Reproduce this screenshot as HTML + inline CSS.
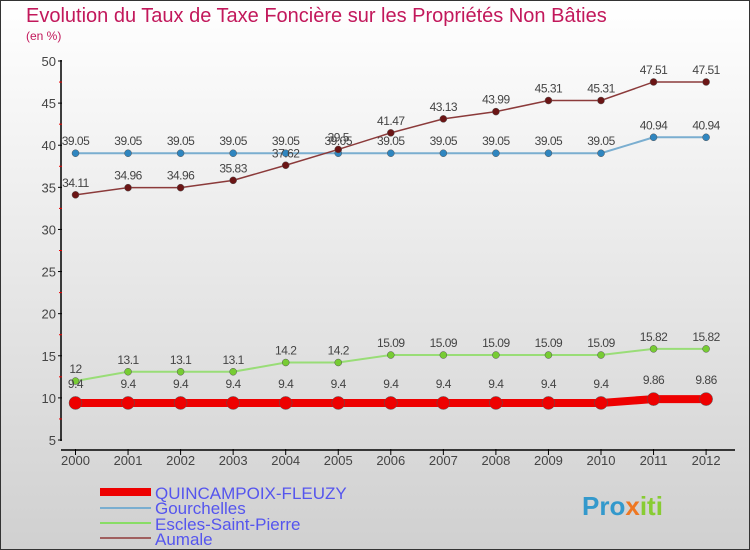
<!DOCTYPE html>
<html><head><meta charset="utf-8"><style>
body{margin:0}
#c{width:750px;height:550px;position:relative;box-sizing:border-box;border:1px solid #333;background:linear-gradient(#ffffff,#d0d0d0);font-family:"Liberation Sans",sans-serif;overflow:hidden}
</style></head><body>
<div id="c">
<svg width="750" height="550" style="position:absolute;left:-1px;top:-1px" id="svg">
<text x="26" y="22" font-size="20" fill="#c2185b">Evolution du Taux de Taxe Foncière sur les Propriétés Non Bâties</text>
<text x="26" y="40" font-size="12" fill="#c2185b">(en %)</text>
<g id="axes"></g><g id="series"></g>
<g>
<rect x="100" y="488" width="51" height="8" fill="#e00"/>
<text x="155" y="499" font-size="17" fill="#5555ee">QUINCAMPOIX-FLEUZY</text>
<rect x="100" y="507" width="51" height="2" fill="#7aaed0"/>
<text x="155" y="514" font-size="17" fill="#5555ee">Gourchelles</text>
<rect x="100" y="522" width="51" height="2" fill="#88dd66"/>
<text x="155" y="530" font-size="17" fill="#5555ee">Escles-Saint-Pierre</text>
<rect x="100" y="537" width="51" height="2" fill="#a06060"/>
<text x="155" y="545" font-size="17" fill="#5555ee">Aumale</text>
</g>
<g><text x="582" y="515" font-size="26" font-weight="bold" fill="#3399cc">Pro<tspan fill="#ee7722">x</tspan><tspan fill="#88cc33">iti</tspan></text></g>
</svg>
</div>
<script>
const years=["2000","2001","2002","2003","2004","2005","2006","2007","2008","2009","2010","2011","2012"];
const yTicks=[5,10,15,20,25,30,35,40,45,50];
const quincampoix=[9.4,9.4,9.4,9.4,9.4,9.4,9.4,9.4,9.4,9.4,9.4,9.86,9.86];
const gourchelles=[39.05,39.05,39.05,39.05,39.05,39.05,39.05,39.05,39.05,39.05,39.05,40.94,40.94];
const escles=[12,13.1,13.1,13.1,14.2,14.2,15.09,15.09,15.09,15.09,15.09,15.82,15.82];
const aumale=[34.11,34.96,34.96,35.83,37.62,39.5,41.47,43.13,43.99,45.31,45.31,47.51,47.51];
const NS="http://www.w3.org/2000/svg";
const xs=i=>75.5+i*52.55;
const ys=v=>440-(v-5)*379/45;
function mk(p,t,a){const e=document.createElementNS(NS,t);for(const k in a)e.setAttribute(k,a[k]);p.appendChild(e);return e;}
const ax=document.getElementById('axes');
let yl=mk(ax,'line',{x1:61,y1:60,x2:61,y2:441,stroke:'#000','stroke-width':1.5});


let xl=mk(ax,'line',{x1:61,y1:450,x2:735,y2:450,stroke:'#000','stroke-width':1.5});


yTicks.forEach(v=>{
 mk(ax,'line',{x1:58,y1:ys(v),x2:62,y2:ys(v),stroke:'#000'});
 if(v<50)mk(ax,'line',{x1:59,y1:ys(v+2.5),x2:62,y2:ys(v+2.5),stroke:'#e00'});
 const t=mk(ax,'text',{x:56,y:ys(v)+5,'font-size':13,fill:'#444','text-anchor':'end'});t.textContent=v;
 
 
});
years.forEach((y,i)=>{
 mk(ax,'line',{x1:xs(i),y1:449,x2:xs(i),y2:455,stroke:'#000'});
 const t=mk(ax,'text',{x:xs(i),y:465,'font-size':13,fill:'#444','text-anchor':'middle'});t.textContent=y;
 
 
});
const sg=document.getElementById('series');
function draw(data,color,dot,w,r,name,labelDy){
 const g=mk(sg,'g',{});
 
 
 const pl=mk(g,'polyline',{points:data.map((v,i)=>xs(i)+','+ys(v)).join(' '),fill:'none',stroke:color,'stroke-width':w});
 
 
 data.forEach((v,i)=>{
  const c=mk(g,'circle',{cx:xs(i),cy:ys(v),r:r,fill:dot,stroke:'#555','stroke-width':0.5});
  
  
  const t=mk(g,'text',{x:xs(i),y:ys(v)+labelDy,'font-size':12,fill:'#444','text-anchor':'middle','letter-spacing':'-0.5'});t.textContent=v;
  
  
 });
}
draw(gourchelles,'#7aaed0','#2f86c0',2,3.5,'gourchelles',-8);
draw(escles,'#99dd77','#77cc33',2,3.5,'escles',-8);
draw(aumale,'#8b3a3a','#6b1515',1.5,3.5,'aumale',-8);
draw(quincampoix,'#ee0000','#ee0000',8,6.5,'quincampoix',-15);
</script>
</body></html>
